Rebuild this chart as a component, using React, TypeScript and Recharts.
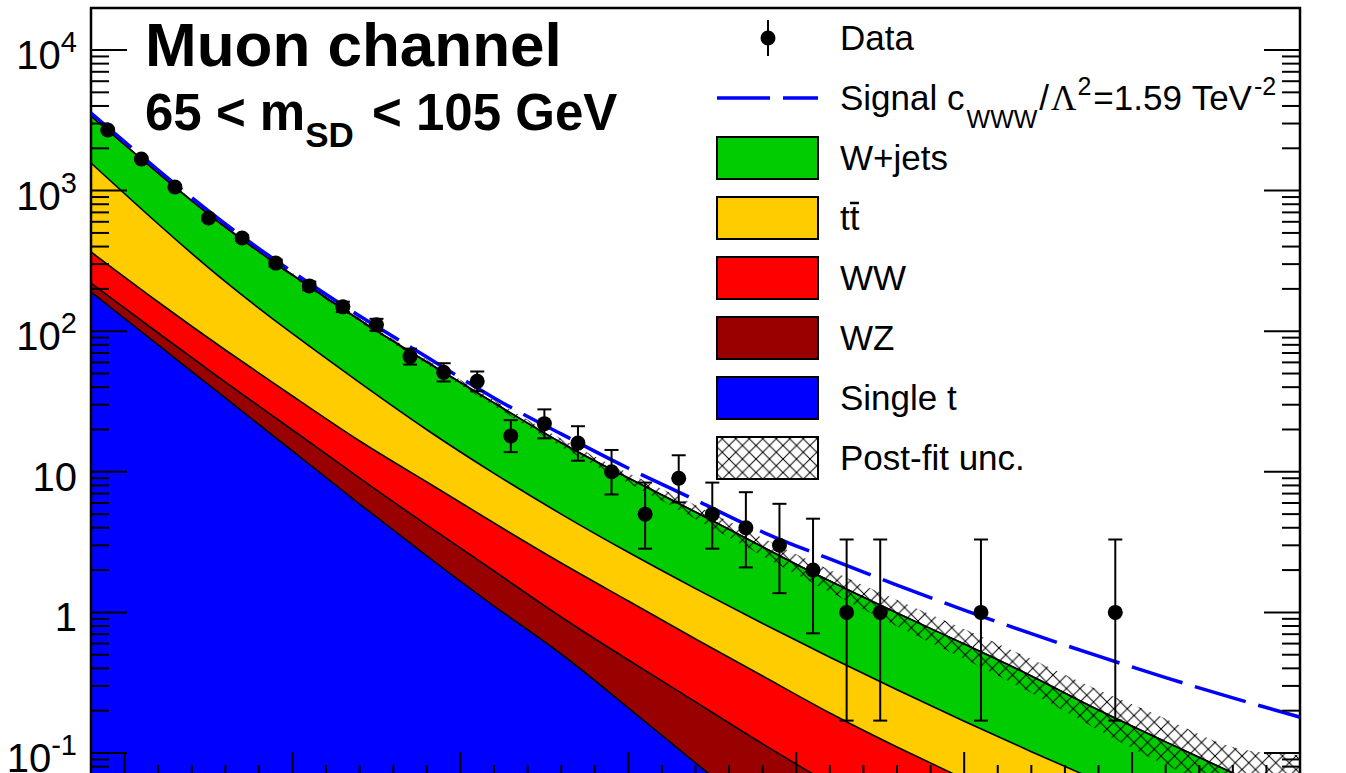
import { ComposedChart, Area, Line, Scatter, ErrorBar, XAxis, YAxis, ReferenceArea } from 'recharts'

const FONT = '"Liberation Sans", Arial, Helvetica, sans-serif'

// background shapes, read every 200 GeV of m_WV
const massPoints = [900, 1100, 1300, 1500, 1700, 1900, 2100, 2300, 2500, 2700, 2900, 3100, 3300, 3500, 3700, 3900, 4100, 4300, 4500]
const singleT = [190.0, 79.8, 33.5, 14.06, 5.9, 2.52, 1.11, 0.506, 0.209, 0.0849, 0.0351, 0.0147, 0.0062, 0.0026, 0.0011, 0.00046, 0.00019, 0.00008, 0.000034]
const wz = [30.2, 17.3, 10.0, 5.77, 3.13, 1.66, 0.86, 0.421, 0.25, 0.146, 0.081, 0.0455, 0.0256, 0.0142, 0.0079, 0.0044, 0.0024, 0.0013, 0.0007]
const ww = [145.7, 64.2, 30.0, 14.77, 7.53, 4.28, 2.35, 1.319, 0.746, 0.4165, 0.237, 0.1323, 0.0786, 0.0485, 0.0297, 0.0181, 0.011, 0.0066, 0.004]
const ttbar = [1206, 417.3, 151.5, 61.4, 26.53, 11.46, 5.437, 2.757, 1.47, 0.8295, 0.4814, 0.2876, 0.171, 0.1027, 0.0635, 0.0401, 0.0256, 0.0164, 0.0104]
const wjets = [1821, 755.4, 326, 155, 77.1, 40.48, 21.14, 11.1, 6.355, 3.7, 2.086, 1.19, 0.7086, 0.428, 0.2508, 0.139, 0.0808, 0.0477, 0.0289]
// relative post-fit uncertainty on the total background
const bkgUnc = [0.016, 0.016, 0.025, 0.033, 0.033, 0.042, 0.05, 0.068, 0.085, 0.12, 0.16, 0.2, 0.24, 0.28, 0.32, 0.39, 0.46, 0.53, 1.2]
// background + aTGC signal (dashed)
const signalTotal = [3565, 1401, 579, 264, 128.3, 65.5, 33.5, 18.6, 10.6, 6.3, 3.73, 2.4, 1.566, 1.039, 0.706, 0.488, 0.344, 0.2465, 0.18]

// data, 100 GeV bins (empty bins not drawn)
const binCenters = [950, 1050, 1150, 1250, 1350, 1450, 1550, 1650, 1750, 1850, 1950, 2050, 2150, 2250, 2350, 2450, 2550, 2650, 2750, 2850, 2950, 3050, 3150, 3250, 3550, 3950]
const dataCounts = [2698, 1679, 1061, 638, 460, 305, 210, 149, 111, 66, 51, 44, 18, 22, 16, 10, 5, 9, 5, 4, 3, 2, 1, 1, 1, 1]
const dataErrLow = [52, 41, 33, 25, 21, 17, 14.5, 12.2, 10.5, 8.1, 7.1, 6.6, 4.2, 4.7, 4.0, 3.1, 2.16, 2.94, 2.16, 1.91, 1.63, 1.29, 0.83, 0.83, 0.83, 0.83]
const dataErrHigh = [53, 42, 34, 26, 22, 18, 15.5, 13.2, 11.5, 9.2, 8.2, 7.7, 5.3, 5.8, 5.1, 4.3, 3.38, 4.11, 3.38, 3.16, 2.92, 2.64, 2.3, 2.3, 2.3, 2.3]

// axes
const Y_MIN = 0.0664
const Y_MAX = 19900
const yDecades = [0.01, 0.1, 1, 10, 100, 1000, 10000]
const yMinorSteps = [1, 2, 3, 4, 5, 6, 7, 8, 9]
const X_MIN = 900
const X_MAX = 4500
const xMajorStep = 500
const xMinorStep = 100

const COLORS = {
  wjets: '#00cc00',
  tt: '#ffcc00',
  ww: '#ff0000',
  wz: '#990000',
  st: '#0000ff',
  signal: '#0000ff',
}

const yTicks = yDecades
  .flatMap((d) => yMinorSteps.map((s) => d * s))
  .filter((v) => v >= Y_MIN && v <= Y_MAX)

const xTicks: number[] = []
for (let m = X_MIN; m <= X_MAX; m += xMinorStep) xTicks.push(m)

const chartRows = massPoints.map((m, i) => {
  const st = singleT[i]
  const wzTop = st + wz[i]
  const wwTop = wzTop + ww[i]
  const ttTop = wwTop + ttbar[i]
  const total = ttTop + wjets[i]
  return {
    m,
    st,
    wzTop,
    wwTop,
    ttTop,
    total,
    band: [total / (1 + bkgUnc[i]), total * (1 + bkgUnc[i])],
    signal: signalTotal[i],
  }
})

const dataRows = binCenters.map((m, i) => ({
  m,
  count: dataCounts[i],
  err: [dataErrLow[i], dataErrHigh[i]],
}))

function isDecade(v: number) {
  const l = Math.log10(v)
  return Math.abs(l - Math.round(l)) < 1e-6
}

function DecadeLabel({ x, y, value }: { x: number; y: number; value: number }) {
  const exp = Math.round(Math.log10(value))
  if (exp === 0 || exp === 1) {
    return (
      <text x={x} y={y} textAnchor="end" fontSize={40} fontFamily={FONT} fill="#000">
        {exp === 0 ? '1' : '10'}
      </text>
    )
  }
  return (
    <text x={x} y={y} textAnchor="end" fontFamily={FONT} fill="#000">
      <tspan fontSize={40}>10</tspan>
      <tspan fontSize={29} dy={-17}>{exp}</tspan>
    </text>
  )
}

function LeftTick(props: any) {
  const { x, y, payload } = props
  const major = isDecade(payload.value)
  return (
    <g>
      <line x1={x} y1={y} x2={x + (major ? 36 : 18)} y2={y} stroke="#000" strokeWidth={2} />
      {major && <DecadeLabel x={x - 14} y={y + 19} value={payload.value} />}
    </g>
  )
}

function RightTick(props: any) {
  const { x, y, payload } = props
  const major = isDecade(payload.value)
  return <line x1={x} y1={y} x2={x - (major ? 36 : 18)} y2={y} stroke="#000" strokeWidth={2} />
}

function BottomTick(props: any) {
  const { x, y, payload } = props
  const major = payload.value % xMajorStep === 0
  return <line x1={x} y1={y} x2={x} y2={y - (major ? 26 : 13)} stroke="#000" strokeWidth={2} />
}

function DataDot(props: any) {
  const { cx, cy } = props
  return <circle cx={cx} cy={cy} r={7.5} fill="#000" />
}

const legendBoxes = [
  { label: 'W+jets', fill: COLORS.wjets },
  { label: 'tt', fill: COLORS.tt },
  { label: 'WW', fill: COLORS.ww },
  { label: 'WZ', fill: COLORS.wz },
  { label: 'Single t', fill: COLORS.st },
  { label: 'Post-fit unc.', fill: 'url(#hatchLegend)' },
]

function Overlay() {
  const boxX = 717
  const boxW = 101
  const textX = 840
  return (
    <svg width={1346} height={773} style={{ position: 'absolute', left: 0, top: 0, pointerEvents: 'none' }}>
      <defs>
        <pattern id="hatchLegend" patternUnits="userSpaceOnUse" width={13.5} height={13.5}>
          <path d="M0,0 L13.5,13.5 M13.5,0 L0,13.5" stroke="#000" strokeWidth={1} />
        </pattern>
      </defs>
      <text x={145} y={66} fontSize={62} fontWeight="bold" fontFamily={FONT}>
        Muon channel
      </text>
      <text x={145} y={130} fontSize={51} fontWeight="bold" fontFamily={FONT}>
        <tspan>65 &lt; m</tspan>
        <tspan fontSize={35} dy={17}>SD</tspan>
        <tspan dy={-17} dx={4}> &lt; 105 GeV</tspan>
      </text>

      {/* Data */}
      <line x1={768} y1={20} x2={768} y2={56} stroke="#000" strokeWidth={2} />
      <circle cx={768} cy={38} r={7.5} fill="#000" />
      <text x={textX} y={50} fontSize={35} fontFamily={FONT}>Data</text>

      {/* Signal */}
      <line x1={boxX} y1={98} x2={boxX + boxW} y2={98} stroke={COLORS.signal} strokeWidth={3.5} strokeDasharray="53 13" />
      <text x={textX} y={110} fontSize={35} fontFamily={FONT}>
        <tspan>Signal c</tspan>
        <tspan fontSize={25} dy={18} dx={2}>WWW</tspan>
        <tspan dy={-18} dx={2}>/</tspan>
        <tspan fontFamily='"Liberation Serif", "Times New Roman", serif' dx={2}>Λ</tspan>
        <tspan fontSize={25} dy={-15} dx={1}>2</tspan>
        <tspan dy={15} dx={2}>=1.59 TeV</tspan>
        <tspan fontSize={25} dy={-15} dx={2}>-2</tspan>
      </text>

      {legendBoxes.map((b, i) => {
        const top = 137 + i * 60
        return (
          <g key={b.label}>
            <rect x={boxX} y={top} width={boxW} height={42} fill={b.fill} stroke="#000" strokeWidth={2} />
            <text x={textX} y={top + 33} fontSize={35} fontFamily={FONT}>{b.label}</text>
            {b.label === 'tt' && <line x1={850} y1={top + 6} x2={859} y2={top + 6} stroke="#000" strokeWidth={2.5} />}
          </g>
        )
      })}
    </svg>
  )
}

export default function App() {
  return (
    <div style={{ position: 'fixed', left: 0, top: 0, width: 1346, height: 773, overflow: 'hidden', background: '#fff' }}>
      <ComposedChart width={1346} height={800} data={chartRows} margin={{ top: 8, right: 0, bottom: 0, left: 0 }}>
        <defs>
          <pattern id="hatchBand" patternUnits="userSpaceOnUse" width={13.5} height={13.5}>
            <path d="M0,0 L13.5,13.5 M13.5,0 L0,13.5" stroke="#000" strokeWidth={1} />
          </pattern>
        </defs>
        <XAxis
          dataKey="m"
          type="number"
          domain={[X_MIN, X_MAX]}
          allowDataOverflow
          ticks={xTicks}
          interval={0}
          height={22}
          tickSize={0}
          tickMargin={0}
          tickLine={false}
          axisLine={false}
          tick={<BottomTick />}
        />
        <YAxis
          yAxisId="left"
          type="number"
          scale="log"
          domain={[Y_MIN, Y_MAX]}
          allowDataOverflow
          ticks={yTicks}
          interval={0}
          width={91}
          tickSize={0}
          tickMargin={0}
          tickLine={false}
          axisLine={false}
          tick={<LeftTick />}
        />
        <YAxis
          yAxisId="right"
          orientation="right"
          type="number"
          scale="log"
          domain={[Y_MIN, Y_MAX]}
          allowDataOverflow
          ticks={yTicks}
          interval={0}
          width={46}
          tickSize={0}
          tickMargin={0}
          tickLine={false}
          axisLine={false}
          tick={<RightTick />}
        />

        <Area yAxisId="left" dataKey="total" type="natural" fill={COLORS.wjets} fillOpacity={1} stroke="#000" strokeWidth={1.6} baseValue={Y_MIN} isAnimationActive={false} />
        <Area yAxisId="left" dataKey="ttTop" type="natural" fill={COLORS.tt} fillOpacity={1} stroke="#000" strokeWidth={1.6} baseValue={Y_MIN} isAnimationActive={false} />
        <Area yAxisId="left" dataKey="wwTop" type="natural" fill={COLORS.ww} fillOpacity={1} stroke="#000" strokeWidth={1.6} baseValue={Y_MIN} isAnimationActive={false} />
        <Area yAxisId="left" dataKey="wzTop" type="natural" fill={COLORS.wz} fillOpacity={1} stroke="#000" strokeWidth={1.6} baseValue={Y_MIN} isAnimationActive={false} />
        <Area yAxisId="left" dataKey="st" type="natural" fill={COLORS.st} fillOpacity={1} stroke="#000" strokeWidth={1.6} baseValue={Y_MIN} isAnimationActive={false} />
        <Area yAxisId="left" dataKey="band" type="natural" fill="url(#hatchBand)" fillOpacity={1} stroke="none" isAnimationActive={false} />
        <Line yAxisId="left" dataKey="total" type="natural" stroke="#000" strokeWidth={1.6} dot={false} isAnimationActive={false} />
        <Line yAxisId="left" dataKey="signal" type="natural" stroke={COLORS.signal} strokeWidth={3.5} strokeDasharray="53 13" dot={false} isAnimationActive={false} />
        <Scatter yAxisId="left" data={dataRows} dataKey="count" shape={<DataDot />} isAnimationActive={false}>
          <ErrorBar dataKey="err" direction="y" width={7} stroke="#000" strokeWidth={2} />
        </Scatter>
        <ReferenceArea yAxisId="left" x1={X_MIN} x2={X_MAX} y1={Y_MIN} y2={Y_MAX} fill="none" fillOpacity={0} stroke="#000" strokeWidth={2.5} ifOverflow="visible" />
      </ComposedChart>
      <Overlay />
    </div>
  )
}
